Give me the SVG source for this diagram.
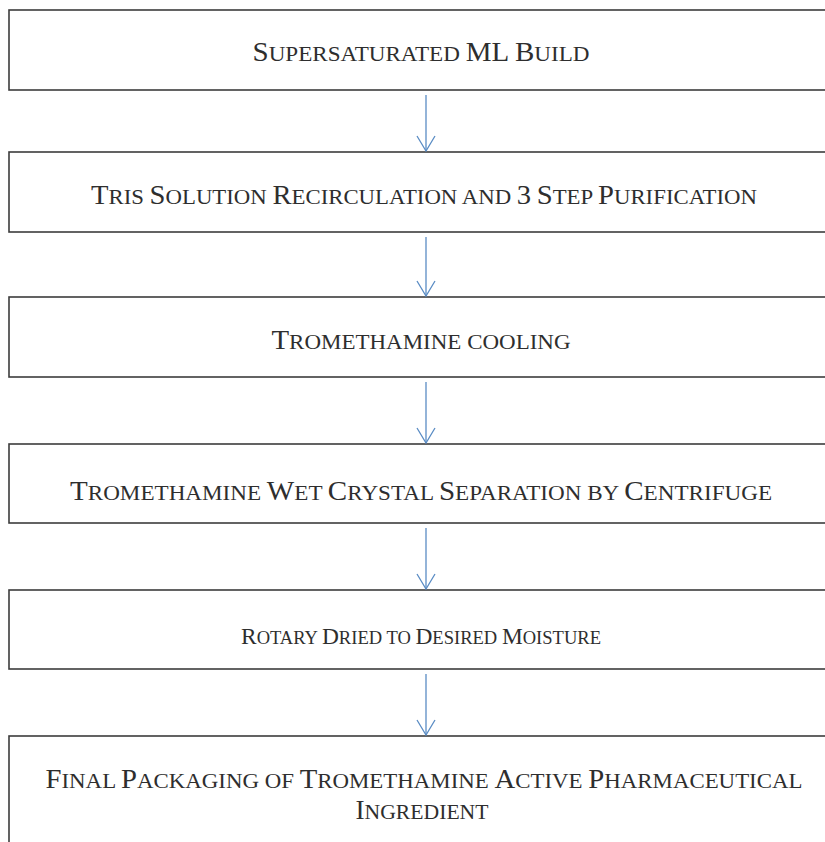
<svg xmlns="http://www.w3.org/2000/svg" width="825" height="842" viewBox="0 0 825 842">
<style>
.box{fill:#ffffff;stroke:#3c3c3c;stroke-width:1.6}
.lbl{font-family:"Liberation Serif","Times New Roman",serif;font-size:21.5px;fill:#2e2e2e;text-anchor:middle}
.L{font-size:27px}
.sm{font-size:19px}
.sm .L{font-size:24px}
.conn line,.conn polyline{fill:none;stroke:#5a8cc4;stroke-width:1.3}
</style>
<rect width="825" height="842" fill="#ffffff"/>
<g id="node1"><rect class="box" x="9" y="10" width="830" height="80"/><text class="lbl" x="421" y="61" textLength="337" lengthAdjust="spacingAndGlyphs"><tspan class="L">S</tspan>UPERSATURATED <tspan class="L">ML</tspan> <tspan class="L">B</tspan>UILD</text></g>
<g id="node2"><rect class="box" x="9" y="152" width="830" height="80"/><text class="lbl" x="424" y="204" textLength="666" lengthAdjust="spacingAndGlyphs"><tspan class="L">T</tspan>RIS <tspan class="L">S</tspan>OLUTION <tspan class="L">R</tspan>ECIRCULATION AND <tspan class="L">3</tspan> <tspan class="L">S</tspan>TEP <tspan class="L">P</tspan>URIFICATION</text></g>
<g id="node3"><rect class="box" x="9" y="297" width="830" height="80"/><text class="lbl" x="421" y="349" textLength="299" lengthAdjust="spacingAndGlyphs"><tspan class="L">T</tspan>ROMETHAMINE COOLING</text></g>
<g id="node4"><rect class="box" x="9" y="444" width="830" height="79"/><text class="lbl" x="421" y="500" textLength="702" lengthAdjust="spacingAndGlyphs"><tspan class="L">T</tspan>ROMETHAMINE <tspan class="L">W</tspan>ET <tspan class="L">C</tspan>RYSTAL <tspan class="L">S</tspan>EPARATION BY <tspan class="L">C</tspan>ENTRIFUGE</text></g>
<g id="node5"><rect class="box" x="9" y="590" width="830" height="79"/><text class="lbl sm" x="421" y="644" textLength="360" lengthAdjust="spacingAndGlyphs"><tspan class="L">R</tspan>OTARY <tspan class="L">D</tspan>RIED TO <tspan class="L">D</tspan>ESIRED <tspan class="L">M</tspan>OISTURE</text></g>
<g id="node6"><rect class="box" x="9" y="736" width="830" height="120"/><text class="lbl" x="424" y="788" textLength="757" lengthAdjust="spacingAndGlyphs"><tspan class="L">F</tspan>INAL <tspan class="L">P</tspan>ACKAGING OF <tspan class="L">T</tspan>ROMETHAMINE <tspan class="L">A</tspan>CTIVE <tspan class="L">P</tspan>HARMACEUTICAL</text><text class="lbl" x="422" y="819" textLength="133" lengthAdjust="spacingAndGlyphs"><tspan class="L">I</tspan>NGREDIENT</text></g>
<g id="connectors" class="conn">
<line x1="426" y1="95" x2="426" y2="151"/><polyline points="417,136 426,151 435,136"/>
<line x1="426" y1="237" x2="426" y2="296"/><polyline points="417,281 426,296 435,281"/>
<line x1="426" y1="382" x2="426" y2="443"/><polyline points="417,428 426,443 435,428"/>
<line x1="426" y1="528" x2="426" y2="589"/><polyline points="417,574 426,589 435,574"/>
<line x1="426" y1="674" x2="426" y2="735"/><polyline points="417,720 426,735 435,720"/>
</g>
</svg>
